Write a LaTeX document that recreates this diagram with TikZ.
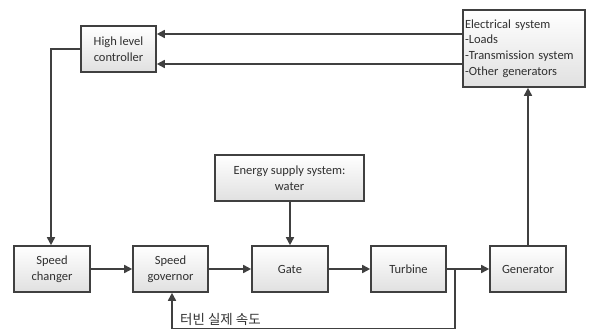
\documentclass[tikz,border=0pt]{standalone}
\usepackage{fontspec}
\setmainfont{Carlito}
\newfontfamily\kofont{Noto Sans CJK KR}
\usetikzlibrary{arrows.meta,shadows}
\definecolor{edgec}{HTML}{404040}
\definecolor{txtc}{HTML}{303030}
\tikzset{
  blk/.style={draw=edgec, line width=1.6pt, top color=white, bottom color=black!12,
    inner sep=0pt, font=\fontsize{12.5}{15.7}\selectfont, text=txtc, align=center,
    drop shadow={shadow xshift=1pt, shadow yshift=-1pt, opacity=0.25}},
  conn/.style={draw=edgec, line width=1.6pt, -{Triangle[length=8pt,width=8pt]}},
  plain/.style={draw=edgec, line width=1.6pt},
  thin/.style={draw=edgec, line width=1pt}
}
\begin{document}
\begin{tikzpicture}[x=1pt,y=-1pt]
\useasboundingbox (0,0) rectangle (595,331);
\node[blk, minimum width=75pt, minimum height=46pt] (hlc) at (118.5,49) {High level\\controller};
\node[blk, minimum width=122pt, minimum height=77pt, align=left, text width=118pt] (es) at (524,48.5) {Electrical system\\-Loads\\-Transmission system\\-Other generators};
\node[blk, minimum width=76pt, minimum height=46pt] (sc) at (52,269) {Speed\\changer};
\node[blk, minimum width=75pt, minimum height=46pt] (sg) at (170.5,269) {Speed\\governor};
\node[blk, minimum width=76pt, minimum height=46pt] (gate) at (290,269) {Gate};
\node[blk, minimum width=149pt, minimum height=46pt] (en) at (289.5,178) {Energy supply system:\\water};
\node[blk, minimum width=75pt, minimum height=46pt] (tur) at (408.5,269) {Turbine};
\node[blk, minimum width=76pt, minimum height=46pt] (gen) at (528,269) {Generator};
\coordinate (br) at (455,269);
\coordinate (bl) at (455,329);
\coordinate (bg) at (172,329);
\coordinate (hl) at (51,49);
\draw[conn] (es.west |- 0,34) -- (hlc.east |- 0,34);
\draw[conn] (es.west |- 0,64) -- (hlc.east |- 0,64);
\draw[conn] (hlc.west) -- (hl) -- (hl |- sc.north);
\draw[conn] (sc) -- (sg);
\draw[conn] (sg) -- (gate);
\draw[conn] (gate) -- (tur);
\draw[conn] (tur) -- (gen);
\draw[conn] (en.south -| gate.north) -- (gate.north);
\draw[conn] (gen.north) -- (es.south -| gen.north);
\draw[plain] (br) -- (bl);
\draw[thin] (bl) -- (bg);
\draw[conn] (bg) -- (bg |- sg.south);
\node[anchor=south west, inner sep=0pt, font=\kofont\fontsize{13.5}{15}\selectfont, text=txtc] (lbl) at (180,326) {터빈 실제 속도};
\end{tikzpicture}
\end{document}
